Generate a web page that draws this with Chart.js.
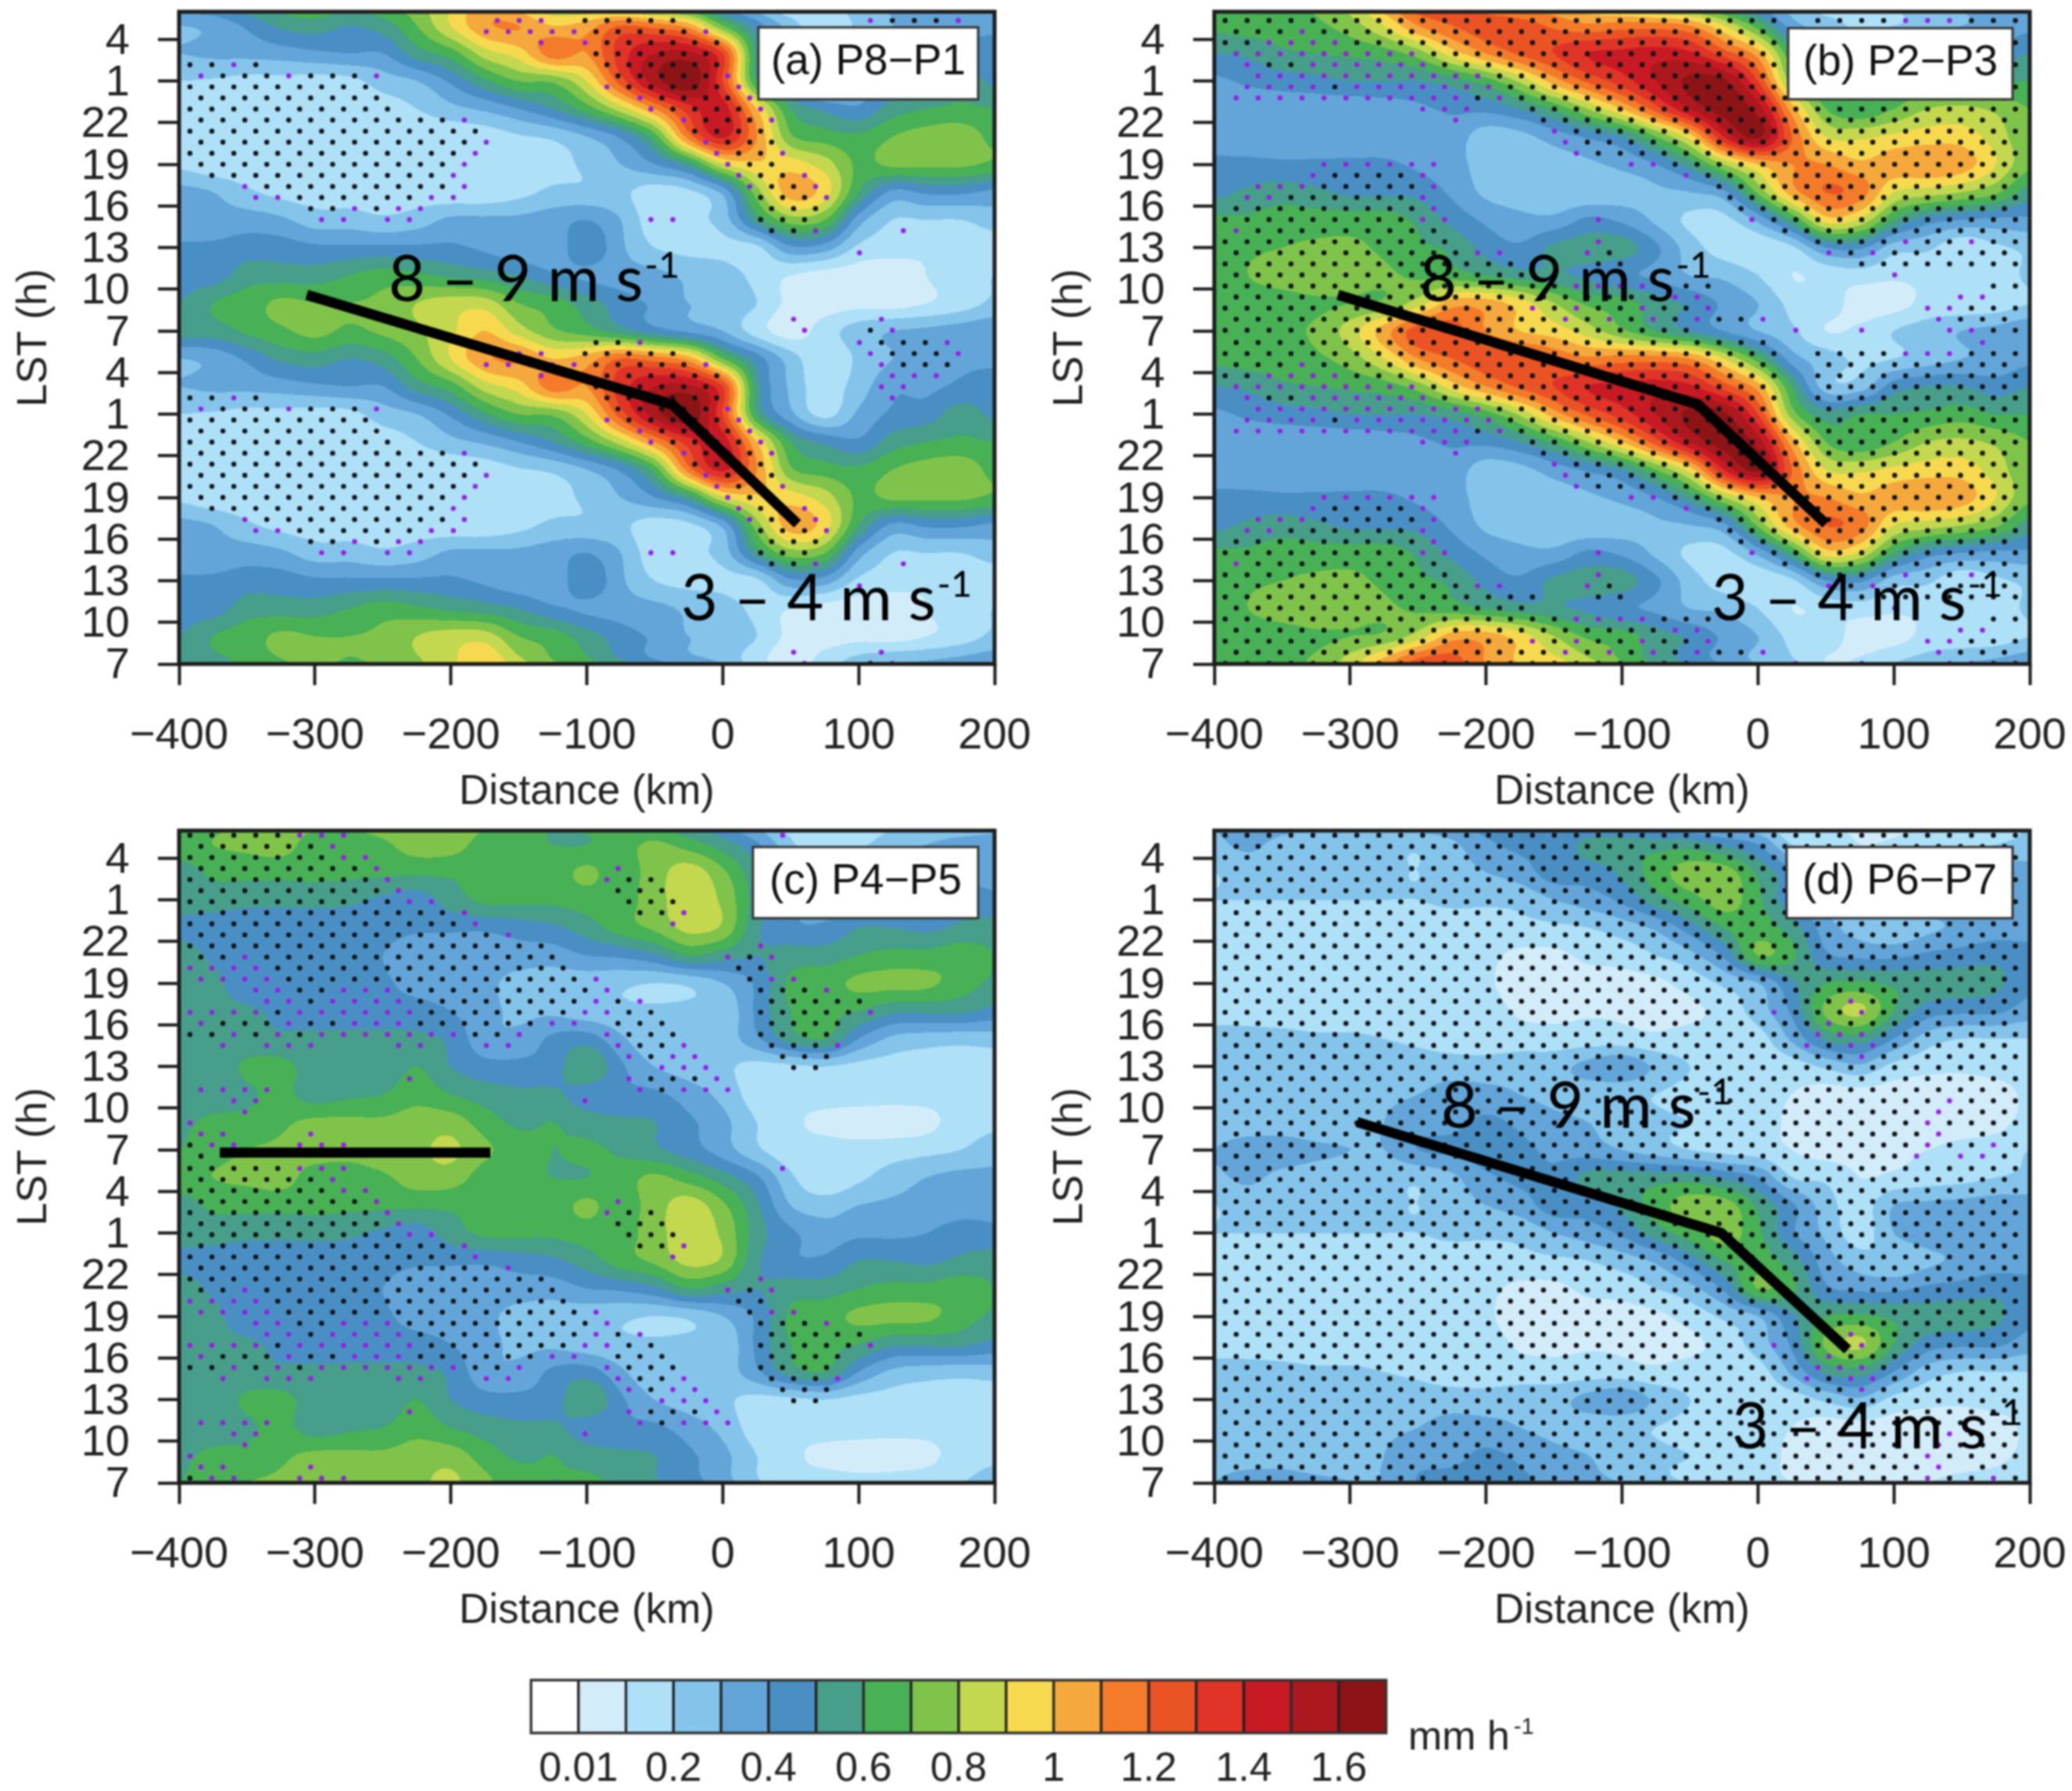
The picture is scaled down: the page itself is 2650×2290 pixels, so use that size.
<!DOCTYPE html>
<html><head><meta charset="utf-8">
<script src="https://cdn.jsdelivr.net/npm/chart.js@4"></script>
<style>
html,body{margin:0;padding:0;background:#fff;width:2650px;height:2290px;overflow:hidden}
canvas{position:absolute;filter:blur(0.8px)}
</style></head><body>
<canvas id="pa" width="1325" height="1045" style="left:0;top:0"></canvas>
<canvas id="pb" width="1325" height="1045" style="left:1325px;top:0"></canvas>
<canvas id="pc" width="1325" height="1045" style="left:0;top:1047px"></canvas>
<canvas id="pd" width="1325" height="1045" style="left:1325px;top:1047px"></canvas>
<canvas id="cb" width="2650" height="190" style="left:0;top:2100px"></canvas>
<script>
// ---------- data ----------
const distanceKm=[-400,-375,-350,-325,-300,-275,-250,-225,-200,-175,-150,-125,-100,-75,-50,-25,0,25,50,75,100,125,150,175,200];
const hoursAfter7=[0,2,4,6,8,10,12,14,16,18,20,22];
const yTickLabels=['7','10','13','16','19','22','1','4','7','10','13','16','19','22','1','4'];
const levels=[0.01,0.1,0.2,0.3,0.4,0.5,0.6,0.7,0.8,0.9,1,1.1,1.2,1.3,1.4,1.5,1.6];
const colours=['#ffffff','#d3ecf9','#aee0f7','#85c4ea','#63a5d8','#4a8fc4','#479e8a','#48b055','#80c34b','#c3d84f','#f7d94f','#f5a83c','#f47b29','#ea5425','#df3427','#c81a24','#ab181d','#8c1416'];
const colourbarLabels=['','0.01','','0.2','','0.4','','0.6','','0.8','','1','','1.2','','1.4','','1.6',''];

const rainA=[
[.55,.55,.62,.68,.73,.68,.72,.78,.88,1.0,.85,.72,.65,.55,.45,.38,.3,.15,.05,.15,.25,.3,.32,.35,.38],
[.5,.6,.65,.72,.7,.7,.72,.8,.85,.85,.7,.65,.55,.45,.38,.3,.28,.2,.07,.05,.07,.06,.1,.15,.22],
[.45,.45,.55,.55,.55,.6,.65,.62,.58,.55,.5,.42,.38,.35,.33,.28,.25,.17,.1,.06,.05,.03,.1,.15,.2],
[.42,.42,.45,.45,.42,.42,.42,.42,.42,.38,.33,.33,.48,.32,.2,.17,.17,.18,.38,.35,.18,.15,.12,.12,.15],
[.32,.33,.35,.32,.25,.25,.22,.25,.32,.32,.32,.35,.4,.3,.14,.17,.25,.55,.75,.7,.35,.2,.2,.2,.25],
[.33,.3,.22,.17,.15,.15,.15,.15,.13,.13,.17,.22,.22,.22,.15,.18,.33,.75,1.05,.95,.6,.38,.42,.42,.38],
[.18,.13,.13,.13,.13,.13,.13,.13,.14,.15,.15,.17,.22,.3,.4,.55,.88,.98,.95,.85,.68,.72,.72,.72,.68],
[.14,.12,.12,.12,.12,.12,.13,.13,.13,.15,.19,.22,.3,.42,.65,1.15,1.42,1.1,.72,.65,.62,.7,.74,.76,.67],
[.15,.13,.13,.13,.13,.14,.15,.2,.27,.32,.4,.5,.65,.85,1.1,1.35,1.45,1.0,.6,.48,.42,.55,.6,.62,.6],
[.2,.19,.17,.17,.16,.17,.25,.3,.42,.58,.7,.72,.9,1.25,1.55,1.68,1.3,.6,.33,.17,.32,.42,.45,.55,.48],
[.3,.32,.33,.35,.38,.4,.4,.55,.65,.85,.95,1.15,1.1,1.35,1.5,1.52,1.3,.55,.28,.15,.25,.38,.38,.42,.45],
[.3,.33,.42,.52,.55,.5,.55,.7,.9,1.08,1.1,1.0,1.05,1.2,1.15,1.05,.7,.45,.25,.12,.22,.3,.35,.38,.38]
];
const rainB=[
[.6,.68,.68,.72,.85,1.05,1.25,1.25,1.1,1.0,.95,.85,.72,.6,.5,.4,.3,.22,.1,.12,.2,.25,.3,.33,.38],
[.65,.65,.65,.68,.7,.72,.85,1.05,1.05,.95,.8,.68,.65,.55,.48,.38,.3,.17,.15,.06,.06,.13,.13,.14,.2],
[.65,.7,.75,.78,.75,.72,.68,.65,.6,.55,.52,.48,.42,.38,.3,.28,.2,.1,.13,.15,.12,.13,.14,.14,.22],
[.65,.68,.7,.72,.72,.68,.62,.58,.47,.42,.52,.55,.55,.42,.25,.15,.12,.18,.4,.42,.25,.22,.12,.18,.22],
[.62,.62,.65,.65,.65,.65,.58,.47,.38,.33,.33,.42,.38,.28,.18,.17,.33,.6,.95,.88,.6,.45,.4,.38,.38],
[.47,.52,.55,.52,.48,.48,.47,.38,.28,.25,.22,.22,.25,.28,.3,.38,.72,1.05,1.2,1.15,.9,.85,.8,.72,.55],
[.43,.43,.42,.42,.42,.42,.38,.33,.27,.25,.25,.28,.33,.4,.55,.8,1.0,1.1,1.1,1.02,1.05,1.08,1.05,.9,.72],
[.33,.33,.33,.33,.33,.33,.33,.35,.25,.27,.35,.42,.5,.7,.95,1.4,1.62,1.2,.9,.88,.92,.95,.95,.85,.72],
[.33,.33,.33,.33,.33,.35,.38,.42,.43,.5,.62,.8,1.0,1.25,1.5,1.65,1.55,1.05,.7,.62,.7,.8,.82,.78,.7],
[.38,.42,.45,.47,.5,.5,.5,.55,.65,.82,1.05,1.22,1.35,1.5,1.62,1.62,1.3,.75,.55,.6,.6,.62,.65,.6,.6],
[.5,.52,.58,.6,.62,.65,.75,.95,1.1,1.22,1.3,1.4,1.42,1.45,1.42,1.25,1.05,.6,.25,.25,.45,.5,.5,.45,.5],
[.62,.65,.65,.68,.75,.9,1.1,1.2,1.25,1.25,1.18,1.12,1.15,1.15,1.1,.9,.65,.35,.25,.18,.2,.25,.3,.33,.38]
];
const rainC=[
[.6,.66,.7,.72,.75,.75,.78,.78,.82,.72,.65,.6,.62,.58,.52,.45,.35,.22,.13,.13,.13,.15,.17,.2,.25],
[.58,.62,.63,.68,.72,.72,.72,.75,.75,.65,.58,.6,.55,.52,.5,.42,.33,.2,.12,.08,.06,.05,.07,.15,.18],
[.55,.55,.58,.63,.55,.58,.6,.66,.6,.55,.52,.52,.45,.42,.42,.35,.27,.15,.12,.14,.14,.14,.14,.15,.18],
[.52,.52,.62,.63,.55,.53,.53,.6,.5,.44,.43,.45,.6,.42,.3,.25,.22,.17,.18,.2,.17,.16,.15,.14,.14],
[.52,.52,.53,.52,.52,.52,.52,.52,.48,.33,.33,.42,.45,.32,.22,.22,.24,.38,.55,.6,.4,.28,.25,.24,.25],
[.52,.52,.52,.47,.45,.45,.45,.45,.4,.33,.28,.28,.24,.22,.21,.22,.22,.42,.6,.62,.6,.52,.52,.52,.47],
[.52,.53,.42,.42,.43,.42,.42,.35,.33,.32,.27,.25,.24,.22,.2,.22,.3,.42,.62,.66,.72,.73,.72,.65,.58],
[.55,.48,.42,.43,.42,.42,.4,.32,.33,.34,.35,.35,.4,.42,.48,.6,.55,.5,.55,.55,.6,.63,.63,.66,.6],
[.47,.45,.43,.43,.44,.44,.44,.42,.42,.42,.45,.48,.55,.65,.72,.83,.78,.52,.42,.42,.5,.5,.48,.52,.55],
[.55,.55,.53,.53,.53,.52,.48,.45,.55,.62,.62,.62,.65,.65,.76,.85,.78,.55,.42,.35,.38,.38,.4,.45,.42],
[.55,.62,.63,.63,.63,.62,.62,.62,.62,.62,.62,.65,.72,.65,.75,.85,.72,.52,.3,.25,.3,.32,.33,.35,.38],
[.66,.7,.72,.74,.65,.63,.68,.75,.75,.65,.62,.6,.6,.65,.72,.65,.55,.42,.22,.12,.18,.25,.3,.33,.33]
];
const rainD=[
[.3,.35,.35,.32,.3,.3,.4,.42,.45,.42,.38,.35,.3,.25,.2,.17,.15,.1,.06,.07,.08,.1,.13,.15,.2],
[.25,.24,.24,.22,.25,.3,.35,.37,.42,.38,.33,.3,.25,.22,.2,.18,.15,.08,.06,.05,.05,.05,.05,.07,.13],
[.25,.24,.23,.22,.25,.28,.3,.34,.33,.3,.27,.25,.22,.2,.17,.17,.14,.1,.06,.06,.06,.05,.05,.06,.12],
[.25,.26,.27,.27,.27,.25,.25,.25,.25,.27,.27,.33,.38,.28,.2,.17,.14,.15,.22,.28,.17,.13,.12,.14,.15],
[.25,.25,.24,.22,.22,.2,.18,.15,.14,.14,.14,.15,.14,.12,.14,.15,.16,.32,.52,.55,.4,.25,.2,.2,.2],
[.15,.14,.13,.13,.13,.13,.14,.13,.13,.09,.08,.09,.09,.08,.08,.14,.25,.42,.72,.82,.6,.45,.42,.42,.35],
[.16,.14,.13,.13,.13,.13,.13,.13,.11,.07,.07,.07,.07,.08,.14,.22,.3,.48,.6,.62,.58,.55,.55,.52,.43],
[.15,.15,.14,.13,.13,.13,.13,.13,.12,.08,.08,.12,.14,.2,.27,.42,.7,.62,.42,.38,.38,.42,.44,.47,.45],
[.15,.12,.12,.12,.13,.13,.14,.15,.15,.17,.18,.2,.25,.32,.45,.6,.65,.55,.35,.25,.22,.28,.32,.35,.35],
[.2,.2,.2,.2,.2,.2,.2,.22,.22,.23,.3,.35,.42,.55,.65,.75,.62,.42,.28,.15,.3,.35,.35,.35,.38],
[.2,.24,.22,.24,.24,.22,.2,.25,.3,.35,.45,.45,.52,.65,.75,.75,.58,.42,.25,.15,.3,.32,.33,.35,.35],
[.28,.32,.27,.25,.25,.23,.22,.28,.38,.42,.42,.53,.55,.55,.55,.48,.4,.2,.18,.1,.12,.15,.17,.2,.22]
];
// stipple rows, bottom row first: "start:marks"; # black, + purple, . none, * black to the end of the row
const stippleA=["28:+ 31:#+","27:+ 31:+","","","","","","30:+","","26:##+ 32:+","6:++ 9:++ 21:++ 26:###","5:##+#++ 26:###","3:++###### 11:++ 26:###+","2:+#########+ 25:+##+","1:###########+ 25:+##+","0:############+ 24:+##","0:#############+ 24:+##+","0:#############+ 23:+###","0:############## 23:####","0:############+ 22:+###+","0:########## 21:+####+","0:######### 20:+#### 25:+","0:######### 19:+##### 25:+","0:+###+###+ 19:#####+","0:##+# 19:###### 32:+","18:###### 31:++","16:+ 18:+###### 32:+++","13:+++++ 18:#####+ 31:+###","14:+++ 18:##### 31:+###+","18:##+ 30:+###+"];
const stippleB=["0:###################### 26:+ 29:+ 33:++###","0:############### 15:+#+#+#+## 24:+ 32:+###","0:############## 14:+#+##+##+ 22:+ 32:++###","0:#################### 20:++ 33:++","0:################ 16:++++ 20:### 35:##","0:############## 30:+","0:############### 17:## 29:########","0:###########++ 16:+# 27:+#+######","0:########### 17:+ 27:####+##+##","0:+######### 25:###########","0:#########++ 17:+ 24:+############","0:#########+ 23:#############","1:++###### 9:+ 23:##############","1:+++#####+ 22:##############","4:+####+ 21:+###############","4:++++++ 18:++################","16:+####################","15:+#####################","15:+######################","10:+ 14:#######################","9:+++ 14:#######################","0:+++++++++++#+ 13:############# 26:##########","1:++++#++++++++ 13:############# 27:##########","1:+++++++++++ 12:############# 27:#########","1:+##++++++ 10:################ 27:##########","0:+++++++++ 9:################ 27:#########","0:##++++#################### 27:##########","0:###+##################### 27:#########","0:########################## 27:####+++###","0:######################### 34:+"];
const stippleC=["0:#","0:#++ 5:+++","0:++ 5:+","0:+","2:+","2:++ 18:+","0:++++ 20:+#+++","10:+ 20:+###+","21:+++ 27:##","20:+#++ 27:###","1:+ 3:+++ 9:++ 13:++ 19:+##+ 26:###+","0:##+#+#+++++++##+ 19:+### 26:####","0:+###+##+++###### 16:++ 19:### 26:####","0:++++#++++++####### 18:++## 26:#####+","3:++#++++######## 18:+#+ 26:#####","3:++##+++######### 19:+ 26:###+","0:++++##############+ 25:#++","0:++++############## 25:##","0:##+############## 24:+#+","0:################# 26:+","0:##############+","0:#############+ 22:+","0:############+ 20:##+","0:##########++ 20:###","0:#########+ 19:###","0:#########+ 19:+##","0:########+ 19:+","0:#######++","0:######+","0:#####+++ 27:+"];
const stippleD=["0:* 31:+.+ 34:+","0:* 32:+ 35:+","0:* 32:+.","0:* 32:+","0:* 32:+","0:* 33:+","0:*","0:*","0:*","0:* 29:+","0:* 26:+ 28:++","0:* 27:+++","0:* 27:+","0:* 25:+ 29:+","0:* 28:+","0:*","0:*","0:*","0:*","0:*","0:*","0:*","0:*","0:*","0:*","0:*","0:*","0:*","0:*","0:*"];
// analysed propagation lines: [km, hours after 07 LST]
const lineA=[[-306,26.6],[-37,18.7],[55,10.1]];
const lineB=[[-309,26.6],[-44,18.7],[50,10.1]];
const lineC=[[-370,23.8],[-171,23.8]];
const lineD=[[-295,26],[-27,18],[66,9.6]];

// ---------- drawing ----------
const AX='#1c1c1c';
const tickFont={family:'"Liberation Sans"',size:56};
const titleFont={family:'"Liberation Sans"',size:53};
const rgb=colours.map(c=>[parseInt(c.slice(1,3),16),parseInt(c.slice(3,5),16),parseInt(c.slice(5,7),16)]);
const cr=(a,b,c,d,t)=>b+.5*t*(c-a+t*(2*a-5*b+4*c-d+t*(3*(b-c)+d-a)));

function levelIndex(v){let i=0;while(i<levels.length&&v>=levels[i])i++;return i;}

const contourPlugin={id:'contour',beforeDatasetsDraw(chart,args,opts){
  const {ctx,chartArea:a,scales:{x,y}}=chart,g=opts.grid;
  const L=Math.round(a.left),T=Math.round(a.top),W=Math.round(a.right)-L,H=Math.round(a.bottom)-T;
  const img=ctx.createImageData(W,H),d=img.data,nc=distanceKm.length,nr=hoursAfter7.length;
  const dk=distanceKm[1]-distanceKm[0],dh=hoursAfter7[1]-hoursAfter7[0];
  const ci=new Int32Array(W),ct=new Float64Array(W);
  for(let i=0;i<W;i++){const u=Math.min(nc-1.0001,Math.max(0,(x.getValueForPixel(L+i+.5)-distanceKm[0])/dk));ci[i]=Math.floor(u);ct[i]=u-ci[i];}
  const v=new Float64Array(nc);
  for(let j=0;j<H;j++){
    const hv=y.getValueForPixel(T+j+.5),rr=(((hv%24)+24)%24)/dh,r=Math.floor(rr),t=rr-r;
    const r0=g[(r-1+nr)%nr],r1=g[r%nr],r2=g[(r+1)%nr],r3=g[(r+2)%nr];
    for(let c=0;c<nc;c++)v[c]=cr(r0[c],r1[c],r2[c],r3[c],t);
    for(let i=0;i<W;i++){
      const c=ci[i],val=cr(v[Math.max(0,c-1)],v[c],v[c+1],v[Math.min(nc-1,c+2)],ct[i]);
      const col=rgb[levelIndex(val)],o=(j*W+i)*4;
      d[o]=col[0];d[o+1]=col[1];d[o+2]=col[2];d[o+3]=255;
    }
  }
  ctx.putImageData(img,L,T);
}};

function speedText(ctx,t){
  ctx.save();ctx.fillStyle='#000';ctx.textAlign='left';ctx.textBaseline='alphabetic';
  ctx.font='81px Lato';
  ctx.fillText(t.text,t.x,t.y);
  const w=ctx.measureText(t.text).width;
  ctx.font='47px Lato';
  ctx.fillText('-1',t.x+w+2,t.y-30);
  ctx.restore();
}
const overlayPlugin={id:'overlay',afterDatasetsDraw(chart,args,o){
  const {ctx,chartArea:a}=chart;
  ctx.save();
  ctx.fillStyle='#fff';ctx.strokeStyle='#333';ctx.lineWidth=3;
  ctx.fillRect(o.box[0],o.box[1],o.box[2],o.box[3]);ctx.strokeRect(o.box[0],o.box[1],o.box[2],o.box[3]);
  ctx.fillStyle='#111';ctx.font='55px "Liberation Sans"';ctx.textAlign='center';ctx.textBaseline='alphabetic';
  ctx.fillText(o.name,o.box[0]+o.box[2]/2,o.box[1]+60);
  ctx.restore();
  o.speeds.forEach(t=>speedText(ctx,t));
  ctx.save();ctx.strokeStyle=AX;ctx.lineWidth=5;ctx.strokeRect(a.left,a.top,a.right-a.left,a.bottom-a.top);ctx.restore();
}};

function stipplePoints(rows,h0,flip){
  const black=[],purple=[];
  for(let cycle=0;cycle<2;cycle++)rows.forEach((row,k)=>{
    const h=h0+.797*k+24*cycle,even=(k%2===0)!==flip;
    const maxJ=even?36:35,marks={};
    row.split(' ').filter(Boolean).forEach(tok=>{
      const [s,p]=tok.split(':');let st=+s;
      if(p==='*'){for(let j=st;j<=maxJ;j++)marks[j]='#';return;}
      [...p].forEach((ch,n)=>{marks[st+n]=ch;});
    });
    Object.keys(marks).forEach(j=>{
      if(+j>maxJ)return;
      const pt={x:(even?-392:-383.9)+16.15*(+j),y:h};
      if(marks[j]==='#')black.push(pt);else if(marks[j]==='+')purple.push(pt);
    });
  });
  return {black,purple};
}

function makePanel(id,rain,stipple,h0,flip,line,yWidth,padRight,name,box,speeds){
  const s=stipplePoints(stipple,h0,flip);
  const cells=[];
  for(let cycle=0;cycle<2;cycle++)hoursAfter7.forEach((h,r)=>distanceKm.forEach((km,c)=>{if(h+24*cycle<=47)cells.push({x:km,y:h+24*cycle,v:rain[r][c]});}));
  new Chart(document.getElementById(id),{
    type:'scatter',
    data:{datasets:[
      {label:'propagation',data:line.map(p=>({x:p[0],y:p[1]})),showLine:true,borderColor:'#000',borderWidth:13,pointRadius:0,borderCapStyle:'butt',borderJoinStyle:'miter',fill:false,tension:0},
      {label:'stipple 95%',data:s.black,pointRadius:3.2,pointBorderWidth:0,backgroundColor:'#101418',borderColor:'#101418'},
      {label:'stipple 90%',data:s.purple,pointRadius:3.2,pointBorderWidth:0,backgroundColor:'#9420e0',borderColor:'#9420e0'},
      {label:'rainfall',data:cells,pointRadius:0}
    ]},
    options:{
      responsive:false,animation:false,events:[],
      layout:{padding:{left:0,top:15,right:padRight,bottom:0}},
      plugins:{legend:{display:false},tooltip:{enabled:false},title:{display:false},
        contour:{grid:rain},overlay:{name,box,speeds}},
      scales:{
        x:{type:'linear',min:-400,max:200,
          afterFit(sc){sc.height=196;sc.paddingLeft=0;sc.paddingRight=0;},
          ticks:{stepSize:100,font:tickFont,color:'#222',padding:32,maxRotation:0,autoSkip:false,includeBounds:false,
            callback:v=>String(v).replace('-','\u2212')},
          grid:{drawOnChartArea:false,drawTicks:true,tickLength:27,tickWidth:4,tickColor:AX},
          border:{display:false},
          title:{display:true,text:'Distance (km)',font:titleFont,color:'#222',padding:{top:0,bottom:0}}},
        y:{type:'linear',min:0,max:47,
          afterFit(sc){sc.width=yWidth;sc.paddingTop=0;sc.paddingBottom=0;},
          ticks:{stepSize:3,font:tickFont,color:'#222',padding:36,autoSkip:false,includeBounds:false,maxRotation:0,labelOffset:3,
            callback:(v,i)=>yTickLabels[i]},
          grid:{drawOnChartArea:false,drawTicks:true,tickLength:27,tickWidth:4,tickColor:AX},
          border:{display:false},
          title:{display:true,text:'LST (h)',font:titleFont,color:'#222',padding:{top:13,bottom:13}}}
      }
    },
    plugins:[contourPlugin,overlayPlugin]
  });
}

document.fonts.ready.then(()=>{
makePanel('pa',rainA,stippleA,.05,false,lineA,229,53,'(a) P8\u2212P1',[970,35,281,92],
  [{text:'8 \u2013 9 m s',x:497,y:385},{text:'3 \u2013 4 m s',x:871,y:793}]);
makePanel('pb',rainB,stippleB,.05,false,lineB,228,54,'(b) P2\u2212P3',[962,36,287,91],
  [{text:'8 \u2013 9 m s',x:491,y:385},{text:'3 \u2013 4 m s',x:864,y:793}]);
makePanel('pc',rainC,stippleC,-.455,true,lineC,229,53,'(c) P4\u2212P5',[963,36,288,91],[]);
makePanel('pd',rainD,stippleD,-.455,true,lineD,228,54,'(d) P6\u2212P7',[960,36,289,91],
  [{text:'8 \u2013 9 m s',x:518,y:395},{text:'3 \u2013 4 m s',x:890,y:805}]);

const cbDatasets=colours.map((c,i)=>({label:'level '+i,data:[1],backgroundColor:c,borderColor:'#222',borderWidth:2,borderSkipped:false,stack:'s',barPercentage:1,categoryPercentage:1}));
new Chart(document.getElementById('cb'),{
  type:'bar',
  data:{labels:['mm h-1'],datasets:cbDatasets},
  options:{indexAxis:'y',responsive:false,animation:false,events:[],
    layout:{padding:{left:679,right:877,top:48,bottom:0}},
    plugins:{legend:{display:false},tooltip:{enabled:false}},
    scales:{
      x:{type:'linear',min:0,max:18,stacked:true,
        afterFit(sc){sc.height=74;sc.paddingLeft=0;sc.paddingRight=0;},
        ticks:{stepSize:1,autoSkip:false,maxRotation:0,padding:7,font:{family:'"Liberation Sans"',size:52},color:'#222',callback:(v,i)=>colourbarLabels[i]},
        grid:{display:false},border:{display:false}},
      y:{display:false,stacked:true}
    }
  },
  plugins:[{id:'cbFrame',afterDraw(chart){
    const {ctx,chartArea:a}=chart;
    ctx.save();ctx.strokeStyle='#333';ctx.lineWidth=3;ctx.strokeRect(a.left,a.top,a.right-a.left,a.bottom-a.top);
    ctx.fillStyle='#222';ctx.textBaseline='alphabetic';ctx.textAlign='left';
    ctx.font='52px "Liberation Sans"';ctx.fillText('mm h',1801,137);
    ctx.font='29px "Liberation Sans"';ctx.fillText('-1',1936,117);
    ctx.restore();
  }}]
});
});
</script>
</body></html>
